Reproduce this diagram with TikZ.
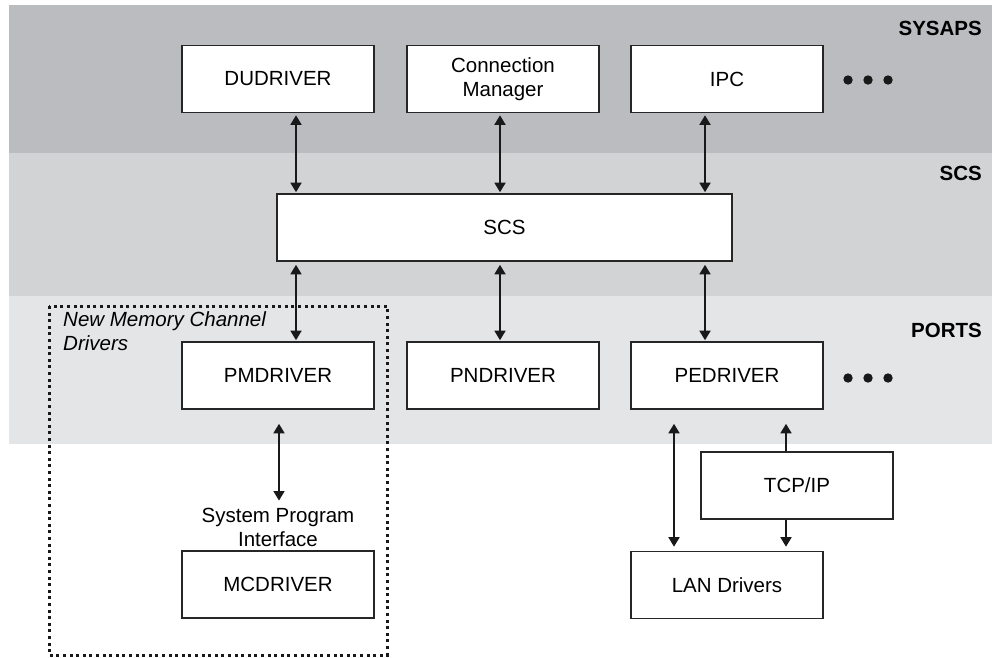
\documentclass[tikz,border=0pt]{standalone}
\usepackage{fontspec}
\setmainfont{Liberation Sans}
\usepackage{tikz}
\usetikzlibrary{positioning,arrows.meta,calc}
\usepackage{xcolor}
\definecolor{bandsys}{HTML}{BBBCC0}
\definecolor{bandscs}{HTML}{D2D3D5}
\definecolor{bandport}{HTML}{E4E5E7}

\begin{document}
\begin{tikzpicture}[x=1pt, y=-1pt, >={Triangle[length=9.5pt,width=11pt]},
    txt/.style={font=\fontsize{20.5}{24}\selectfont},
    box/.style={txt, draw=black!85, line width=1.6pt, fill=white, inner sep=0pt,
        minimum width=192pt, minimum height=67pt, align=center},
    layer/.style={font=\fontsize{20.5}{24}\selectfont\bfseries, anchor=east, inner sep=0pt},
    link/.style={line width=1.7pt, draw=black!90},
    more/.style={fill=black!90}]

    \useasboundingbox (0,0) rectangle (992,657);

    % --- LAYER BANDS ---
    \fill[bandsys] (9,5) rectangle (992,153);
    \fill[bandscs] (9,153) rectangle (992,296);
    \fill[bandport] (9,296) rectangle (992,444);

    \node[layer] (lsys) at (982,28) {SYSAPS};
    \node[layer] (lscs) at (982,173) {SCS};
    \node[layer] (lport) at (982,330) {PORTS};

    % --- SYSAPS ---
    \node[box] (dud) at (278,79) {DUDRIVER};
    \node[box] (conn) at (503,79) {Connection\\Manager};
    \node[box] (ipc) at (727,79) {IPC};
    \foreach \dx in {848,868,888}
        \fill[more] (\dx,80) circle (4.7);

    % --- SCS ---
    \node[box, minimum width=455pt] (scs) at (504.5,227.5) {SCS};

    % --- PORTS ---
    \node[box] (pm) at (278,375.5) {PMDRIVER};
    \node[box] (pn) at (503,375.5) {PNDRIVER};
    \node[box] (pe) at (727,375.5) {PEDRIVER};
    \foreach \dx in {848,868,888}
        \fill[more] (\dx,378) circle (4.7);

    % --- BELOW ---
    \node[txt, align=center, inner sep=0pt] (spi) at (278,527) {System Program\\Interface};
    \node[box] (mc) at (278,584.5) {MCDRIVER};
    \node[box] (tcp) at (797,485.5) {TCP/IP};
    \node[box] (lan) at (727,585) {LAN Drivers};

    % New Memory Channel group
    \draw[line width=3pt, dash pattern=on 3pt off 3.6pt, draw=black!90] (49,306) rectangle (387,655);
    \node[txt, font=\fontsize{20.5}{24.5}\selectfont\itshape, align=left, anchor=north west,
        inner sep=0pt] (nmc) at (63,311) {New Memory Channel\\Drivers};

    % --- CONNECTORS ---
    \coordinate (c1) at (296,0);
    \coordinate (c2) at (500,0);
    \coordinate (c3) at (705,0);
    \draw[link, <->] ($(dud.south -| c1)+(0,2)$) -- ($(scs.north -| c1)+(0,-1)$);
    \draw[link, <->] ($(conn.south -| c2)+(0,2)$) -- ($(scs.north -| c2)+(0,-1)$);
    \draw[link, <->] ($(ipc.south -| c3)+(0,2)$) -- ($(scs.north -| c3)+(0,-1)$);
    \draw[link, <->] ($(scs.south -| c1)+(0,3)$) -- ($(pm.north -| c1)+(0,-1)$);
    \draw[link, <->] ($(scs.south -| c2)+(0,3)$) -- ($(pn.north -| c2)+(0,-1)$);
    \draw[link, <->] ($(scs.south -| c3)+(0,3)$) -- ($(pe.north -| c3)+(0,-1)$);

    \draw[link, <->] ($(pm.south)+(1,14)$) -- ($(spi.north)+(1,-7)$);
    \coordinate (c4) at (674,0);
    \coordinate (c5) at (786,0);
    \draw[link, <->] ($(pe.south -| c4)+(0,14)$) -- ($(lan.north -| c4)+(0,-4)$);
    \draw[link, ->] (tcp.north -| c5) -- ($(pe.south -| c5)+(0,14)$);
    \draw[link, ->] (tcp.south -| c5) -- ($(lan.north -| c5)+(0,-4)$);

\end{tikzpicture}
\end{document}
